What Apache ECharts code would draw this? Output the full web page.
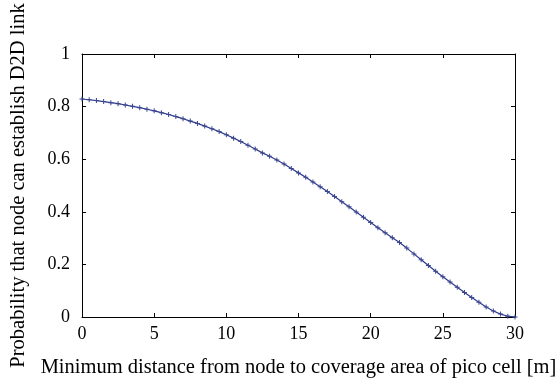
<!DOCTYPE html>
<html><head><meta charset="utf-8">
<script src="https://cdn.jsdelivr.net/npm/echarts@6/dist/echarts.min.js"></script>
<style>html,body{margin:0;padding:0;background:#fff}#c{width:556px;height:382px}</style>
</head><body><div id="c"></div>
<script>
const xValues = [0,0.5,1,1.5,2,2.5,3,3.5,4,4.5,5,5.5,6,6.5,7,7.5,8,8.5,9,9.5,10,10.5,11,11.5,12,12.5,13,13.5,14,14.5,15,15.5,16,16.5,17,17.5,18,18.5,19,19.5,20,20.5,21,21.5,22,22.5,23,23.5,24,24.5,25,25.5,26,26.5,27,27.5,28,28.5,29,29.5,30];
const probValues = [0.829,0.826,0.823,0.819,0.815,0.811,0.806,0.801,0.796,0.790,0.784,0.777,0.770,0.762,0.754,0.745,0.736,0.726,0.716,0.705,0.693,0.680,0.667,0.653,0.639,0.624,0.611,0.597,0.582,0.565,0.548,0.531,0.513,0.495,0.477,0.458,0.438,0.419,0.399,0.379,0.359,0.339,0.320,0.301,0.283,0.262,0.240,0.218,0.196,0.174,0.153,0.133,0.113,0.093,0.074,0.056,0.038,0.023,0.011,0.003,0.0];
const xTicks = [0,5,10,15,20,25,30];
const yTicks = [0,0.2,0.4,0.6,0.8,1];
const xTitle = 'Minimum distance from node to coverage area of pico cell [m]';
const yTitle = 'Probability that node can establish D2D link';

const font = 'Liberation Serif';
const chart = echarts.init(document.getElementById('c'));
const axisLine = {show:true, onZero:false, lineStyle:{color:'#000', width:1}};
const tick = {show:true, inside:true, length:4, lineStyle:{color:'#000'}};
chart.setOption({
  animation:false,
  grid:{left:82, right:41, top:54, bottom:65, containLabel:false, outerBoundsMode:'none'},
  xAxis:[{type:'value', min:0, max:30, interval:5, axisLine, axisTick:tick, splitLine:{show:false},
    axisLabel:{color:'#000', fontFamily:font, fontSize:18, margin:8, formatter:v=>xTicks.includes(v)?String(v):''},
    name:xTitle, nameLocation:'middle', nameGap:40, nameTextStyle:{color:'#000', fontFamily:font, fontSize:20.5}},
   {type:'value', position:'top', min:0, max:30, interval:5, axisLine, axisTick:tick, axisLabel:{show:false}, splitLine:{show:false}}],
  yAxis:[{type:'value', min:0, max:1, interval:0.2, axisLine, axisTick:tick, splitLine:{show:false},
    axisLabel:{color:'#000', fontFamily:font, fontSize:18, margin:12, formatter:v=>{const t=yTicks.find(a=>Math.abs(a-v)<1e-9);return t===undefined?'':String(t);}},
    name:yTitle, nameLocation:'middle', nameGap:53, nameTextStyle:{color:'#000', fontFamily:font, fontSize:20.5}},
   {type:'value', position:'right', min:0, max:1, interval:0.2, axisLine, axisTick:tick, axisLabel:{show:false}, splitLine:{show:false}}],
  series:[{type:'line', data:xValues.map((x,i)=>[x,probValues[i]]), smooth:false,
    lineStyle:{color:'#2e3b8c', width:1.2},
    symbol:'path://M4,0H6V4H10V6H6V10H4V6H0V4H4Z', symbolSize:5, showSymbol:true,
    itemStyle:{color:'#3a4590'}}]
});
</script></body></html>
